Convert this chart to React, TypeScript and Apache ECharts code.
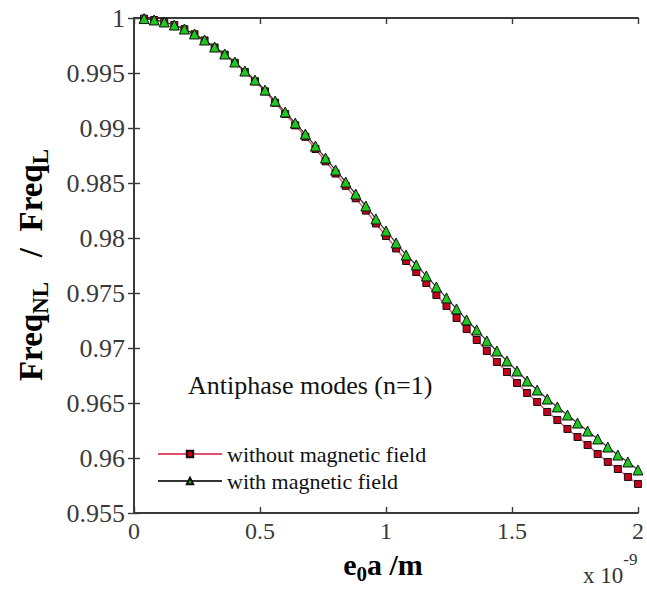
import React, { useEffect, useRef } from "react";
import * as echarts from "echarts";

// x values (units of 1e-9 m)
const xValues = [
  0.04, 0.08, 0.12, 0.16, 0.2, 0.24, 0.28, 0.32, 0.36, 0.4,
  0.44, 0.48, 0.52, 0.56, 0.6, 0.64, 0.68, 0.72, 0.76, 0.8,
  0.84, 0.88, 0.92, 0.96, 1.0, 1.04, 1.08, 1.12, 1.16, 1.2,
  1.24, 1.28, 1.32, 1.36, 1.4, 1.44, 1.48, 1.52, 1.56, 1.6,
  1.64, 1.68, 1.72, 1.76, 1.8, 1.84, 1.88, 1.92, 1.96, 2.0,
];

const withoutField = [
  0.99995, 0.99982, 0.99964, 0.99936, 0.99898, 0.99852, 0.99796, 0.99732, 0.99667, 0.99593,
  0.99509, 0.99425, 0.99333, 0.9923, 0.99127, 0.99024, 0.9892, 0.98809, 0.98697, 0.98586,
  0.98474, 0.98361, 0.98249, 0.98132, 0.98018, 0.97905, 0.97791, 0.97691, 0.97591, 0.97482,
  0.97382, 0.97273, 0.97173, 0.97073, 0.96973, 0.96873, 0.96782, 0.96682, 0.96591, 0.96509,
  0.96418, 0.96345, 0.96264, 0.96191, 0.96118, 0.96036, 0.95964, 0.959, 0.95827, 0.95764,
];

const withField = [
  0.99995, 0.99982, 0.99964, 0.99936, 0.999, 0.99855, 0.998, 0.99736, 0.99673, 0.996,
  0.99518, 0.99436, 0.99345, 0.99245, 0.99145, 0.99045, 0.98945, 0.98836, 0.98727, 0.98618,
  0.98509, 0.984, 0.98291, 0.98173, 0.98064, 0.97955, 0.97845, 0.97755, 0.97655, 0.97555,
  0.97455, 0.97355, 0.97255, 0.97164, 0.97064, 0.96973, 0.96882, 0.96791, 0.967, 0.96618,
  0.96536, 0.96464, 0.96391, 0.96318, 0.96245, 0.96173, 0.961, 0.96027, 0.95964, 0.95891,
];

const seriesNames = ["without magnetic field", "with magnetic field"];
const annotation = "Antiphase modes (n=1)";

const X_MIN = 0;
const X_MAX = 2;
const X_STEP = 0.5;
const Y_MIN = 0.955;
const Y_MAX = 1;
const Y_STEP = 0.005;

const SERIF = "Liberation Serif";
const AXIS_COLOR = "#3a3a3a";

export default function App() {
  const ref = useRef<HTMLDivElement>(null);

  useEffect(() => {
    if (!ref.current) return;
    const chart = echarts.init(ref.current, undefined, { renderer: "svg" });

    const fmtY = (v: number) => String(+v.toFixed(3));
    const fmtX = (v: number) => String(+v.toFixed(1));

    const axisLine = () => ({ show: true, lineStyle: { color: AXIS_COLOR, width: 1.8 } });
    const axisTick = () => ({ show: true, inside: true, length: 6, lineStyle: { color: AXIS_COLOR, width: 1.4 } });

    chart.setOption({
      animation: false,
      backgroundColor: "#ffffff",
      grid: { left: 134, right: 4, top: 18, bottom: 78 },
      xAxis: [
        {
          type: "value",
          min: X_MIN,
          max: X_MAX,
          interval: X_STEP,
          axisLine: axisLine(),
          axisTick: axisTick(),
          splitLine: { show: false },
          axisLabel: {
            formatter: fmtX,
            fontFamily: SERIF,
            fontSize: 24,
            color: "#3a3a3a",
            margin: 6,
          },
        },
        {
          type: "value",
          position: "top",
          min: X_MIN,
          max: X_MAX,
          interval: X_STEP,
          axisLine: axisLine(),
          axisTick: axisTick(),
          splitLine: { show: false },
          axisLabel: { show: false },
        },
      ],
      yAxis: [
        {
          type: "value",
          min: Y_MIN,
          max: Y_MAX,
          interval: Y_STEP,
          axisLine: axisLine(),
          axisTick: axisTick(),
          splitLine: { show: false },
          axisLabel: {
            formatter: fmtY,
            fontFamily: SERIF,
            fontSize: 26,
            color: "#3a3a3a",
            margin: 9,
          },
        },
        {
          type: "value",
          position: "right",
          min: Y_MIN,
          max: Y_MAX,
          interval: Y_STEP,
          axisLine: axisLine(),
          axisTick: axisTick(),
          splitLine: { show: false },
          axisLabel: { show: false },
        },
      ],
      legend: {
        orient: "vertical",
        left: 152,
        top: 438,
        itemWidth: 64,
        itemHeight: 8,
        itemGap: 5,
        textStyle: { fontFamily: SERIF, fontSize: 22, color: "#111" },
        data: seriesNames,
      },
      series: [
        {
          name: seriesNames[0],
          type: "line",
          data: xValues.map((x, i) => [x, withoutField[i]]),
          symbol: "rect",
          symbolSize: 7,
          lineStyle: { color: "#e0506a", width: 1.3 },
          itemStyle: { color: "#c8001e", borderColor: "#111", borderWidth: 1 },
          z: 2,
        },
        {
          name: seriesNames[1],
          type: "line",
          data: xValues.map((x, i) => [x, withField[i]]),
          symbol: "triangle",
          symbolSize: 10,
          lineStyle: { color: "#333333", width: 1.2 },
          itemStyle: { color: "#1ec81e", borderColor: "#111", borderWidth: 1 },
          z: 3,
        },
      ],
      graphic: [
        {
          type: "text",
          x: 31,
          y: 265,
          rotation: Math.PI / 2,
          style: {
            text: "{m|Freq}{s|NL}{m|   /  Freq}{s|L}",
            align: "center",
            verticalAlign: "middle",
            rich: {
              m: { fontFamily: SERIF, fontSize: 33, fontWeight: "bold", fill: "#000", lineHeight: 42 },
              s: { fontFamily: SERIF, fontSize: 23, fontWeight: "bold", fill: "#000", lineHeight: 20, verticalAlign: "bottom" },
            },
          },
        },
        {
          type: "text",
          x: 383,
          y: 564,
          style: {
            text: "{m|e}{s|0}{m|a /m}",
            align: "center",
            verticalAlign: "middle",
            rich: {
              m: { fontFamily: SERIF, fontSize: 30, fontWeight: "bold", fill: "#000", lineHeight: 40 },
              s: { fontFamily: SERIF, fontSize: 21, fontWeight: "bold", fill: "#000", lineHeight: 20, verticalAlign: "bottom" },
            },
          },
        },
        {
          type: "text",
          x: 188,
          y: 385,
          style: {
            text: annotation,
            fontFamily: SERIF,
            fontSize: 26,
            fill: "#111",
            align: "left",
            verticalAlign: "middle",
          },
        },
        {
          type: "text",
          x: 583,
          y: 569,
          style: {
            text: "{n|x 10}{p|-9}",
            align: "left",
            verticalAlign: "middle",
            rich: {
              n: { fontFamily: SERIF, fontSize: 23, fill: "#333", lineHeight: 36, verticalAlign: "bottom" },
              p: { fontFamily: SERIF, fontSize: 17, fill: "#333", lineHeight: 16, verticalAlign: "top" },
            },
          },
        },
      ],
    });

    return () => chart.dispose();
  }, []);

  return (
    <div
      ref={ref}
      style={{ position: "fixed", left: 0, top: 0, width: 647, height: 591 }}
    />
  );
}
